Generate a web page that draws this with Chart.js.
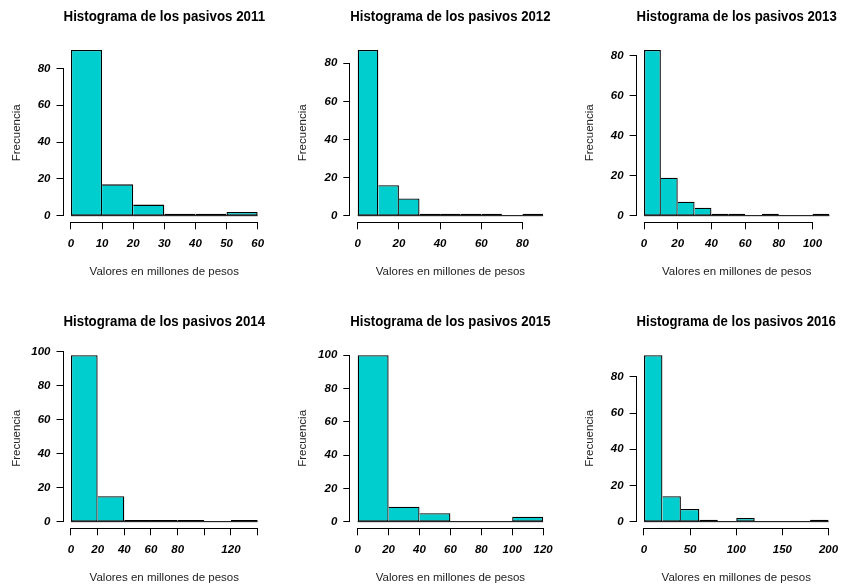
<!DOCTYPE html>
<html>
<head>
<meta charset="utf-8">
<title>Histogramas de los pasivos 2011-2016</title>
<script src="https://cdn.jsdelivr.net/npm/chart.js@4.4.1/dist/chart.umd.min.js"></script>
<style>
  html, body { margin: 0; padding: 0; background: #fff; }
  #wrap { position: relative; width: 846px; height: 586px; overflow: hidden; }
  #wrap canvas { position: absolute; }
</style>
</head>
<body>
<div id="wrap"></div>
<script>
const years = ['2011', '2012', '2013', '2014', '2015', '2016'];

const breaks2011 = [0, 10, 20, 30, 40, 50, 60];
const counts2011 = [90, 17, 6, 1, 1, 2];
const breaks2012 = [0, 10, 20, 30, 40, 50, 60, 70, 80, 90];
const counts2012 = [87, 16, 9, 1, 1, 1, 1, 0, 1];
const breaks2013 = [0, 10, 20, 30, 40, 50, 60, 70, 80, 90, 100, 110];
const counts2013 = [83, 19, 7, 4, 1, 1, 0, 1, 0, 0, 1];
const breaks2014 = [0, 20, 40, 60, 80, 100, 120, 140];
const counts2014 = [98, 15, 1, 1, 1, 0, 1];
const breaks2015 = [0, 20, 40, 60, 80, 100, 120];
const counts2015 = [100, 9, 5, 0, 0, 3];
const breaks2016 = [0, 20, 40, 60, 80, 100, 120, 140, 160, 180, 200];
const counts2016 = [92, 14, 7, 1, 0, 2, 0, 0, 0, 1];

// ejes
const yTicksTop = [0, 20, 40, 60, 80];
const yTicks100 = [0, 20, 40, 60, 80, 100];
const xTicks2011 = [0, 10, 20, 30, 40, 50, 60];
const xLabels2011 = ['0', '10', '20', '30', '40', '50', '60'];
const xTicks2012 = [0, 20, 40, 60, 80];
const xLabels2012 = ['0', '20', '40', '60', '80'];
const xTicks2013 = [0, 20, 40, 60, 80, 100];
const xLabels2013 = ['0', '20', '40', '60', '80', '100'];
const xTicks2014 = [0, 20, 40, 60, 80, 100, 120, 140];
const xLabels2014 = ['0', '20', '40', '60', '80', '', '120', ''];
const xTicks2015 = [0, 20, 40, 60, 80, 100, 120];
const xLabels2015 = ['0', '20', '40', '60', '80', '100', '120'];
const xTicks2016 = [0, 50, 100, 150, 200];
const xLabels2016 = ['0', '50', '100', '150', '200'];

const panels = [
  { breaks: breaks2011, counts: counts2011, yTicks: yTicksTop, xTicks: xTicks2011, xLabels: xLabels2011 },
  { breaks: breaks2012, counts: counts2012, yTicks: yTicksTop, xTicks: xTicks2012, xLabels: xLabels2012 },
  { breaks: breaks2013, counts: counts2013, yTicks: yTicksTop, xTicks: xTicks2013, xLabels: xLabels2013 },
  { breaks: breaks2014, counts: counts2014, yTicks: yTicks100, xTicks: xTicks2014, xLabels: xLabels2014 },
  { breaks: breaks2015, counts: counts2015, yTicks: yTicks100, xTicks: xTicks2015, xLabels: xLabels2015 },
  { breaks: breaks2016, counts: counts2016, yTicks: yTicksTop, xTicks: xTicks2016, xLabels: xLabels2016 }
];

// zona de graficado de cada panel (px de la pagina)
const colLeft = [63.5, 350.3, 636.6];
const colRight = [265.1, 550.5, 836.8];
const rowTop = [43.3, 348.5];
const rowBottom = [222.3, 528.3];
const cellW = 282, cellH = 293;
const yAxisW = 54, xAxisH = 56, titleH = 17.28 + 17.76;

Chart.defaults.font.family = '"Liberation Sans", Arial, sans-serif';
Chart.defaults.color = '#000';

const tickFont = { size: 11.5, style: 'italic', weight: 'bold' };
const labelFont = { size: 11.5 };

// ejes estilo R: la linea solo va del primer al ultimo tick
const rAxes = {
  id: 'rAxes',
  afterDraw(chart) {
    const { ctx, chartArea, scales } = chart;
    const xs = scales.x, ys = scales.y;
    const al = p => Math.round(p - 0.5) + 0.5;
    ctx.save();
    ctx.strokeStyle = '#000';
    ctx.lineWidth = 1;
    ctx.beginPath();
    const ax = Math.round(chartArea.left) - 0.5;
    ctx.moveTo(ax, al(ys.getPixelForValue(ys.ticks[0].value)));
    ctx.lineTo(ax, al(ys.getPixelForValue(ys.ticks[ys.ticks.length - 1].value)));
    const ay = Math.round(chartArea.bottom) + 0.5;
    ctx.moveTo(al(xs.getPixelForValue(xs.ticks[0].value)), ay);
    ctx.lineTo(al(xs.getPixelForValue(xs.ticks[xs.ticks.length - 1].value)), ay);
    ctx.stroke();
    ctx.restore();
  }
};

const wrap = document.getElementById('wrap');

panels.forEach((p, i) => {
  const col = i % 3, row = Math.floor(i / 3);
  const cx = col * cellW, cy = row * cellH;
  const canvas = document.createElement('canvas');
  canvas.width = cellW;
  canvas.height = cellH;
  canvas.style.left = cx + 'px';
  canvas.style.top = cy + 'px';
  wrap.appendChild(canvas);

  const counts = p.counts;
  const lo = p.breaks[0], hi = p.breaks[p.breaks.length - 1];
  const xPad = (hi - lo) * 0.04;
  const yMax = Math.max(...counts);

  new Chart(canvas.getContext('2d'), {
    type: 'bar',
    data: {
      datasets: [
        {
          type: 'bar',
          order: 1,
          data: counts.map((c, k) => ({ x: (p.breaks[k] + p.breaks[k + 1]) / 2, y: c })),
          backgroundColor: '#00CDCD',
          borderColor: '#000',
          borderSkipped: false,
          inflateAmount: 0,
          borderWidth: ctx => {
            const k = ctx.dataIndex;
            return {
              top: 1.3,
              bottom: 1,
              left: (k === 0 || counts[k] > counts[k - 1]) ? 1.3 : 0,
              right: (k === counts.length - 1 || counts[k] >= counts[k + 1]) ? 1.3 : 0
            };
          },
          barPercentage: 1,
          categoryPercentage: 1
        },
        {
          // intervalos vacios: R dibuja el rectangulo de altura 0 como una linea
          type: 'line',
          order: 2,
          data: [{ x: lo, y: 0 }, { x: hi, y: 0 }],
          borderColor: '#000',
          borderWidth: 1,
          pointRadius: 0
        }
      ]
    },
    options: {
      responsive: false,
      animation: false,
      events: [],
      layout: {
        padding: {
          left: colLeft[col] - cx - yAxisW,
          right: cx + cellW - colRight[col],
          top: rowTop[row] - cy - titleH,
          bottom: cy + cellH - rowBottom[row] - xAxisH
        }
      },
      plugins: {
        legend: { display: false },
        tooltip: { enabled: false },
        title: {
          display: true,
          text: 'Histograma de los pasivos ' + years[i],
          fullSize: false,
          color: '#000',
          font: { size: 14.4, weight: 'bold' },
          padding: { top: 0, bottom: 17.76 }
        }
      },
      scales: {
        x: {
          type: 'linear',
          min: lo - xPad,
          max: hi + xPad,
          offset: false,
          afterBuildTicks: s => { s.ticks = p.xTicks.map(v => ({ value: v })); },
          afterFit: s => { s.height = xAxisH; },
          border: { display: false },
          grid: { drawOnChartArea: false, drawTicks: true, tickLength: 7, color: '#000', offset: false },
          ticks: {
            autoSkip: false,
            maxRotation: 0,
            minRotation: 0,
            padding: 7.5,
            color: '#000',
            font: tickFont,
            callback: (v, k) => p.xLabels[k]
          },
          title: {
            display: true,
            text: 'Valores en millones de pesos',
            color: '#222',
            font: labelFont,
            padding: { top: 0, bottom: 0 }
          }
        },
        y: {
          type: 'linear',
          min: -0.04 * yMax,
          max: 1.04 * yMax,
          afterBuildTicks: s => { s.ticks = p.yTicks.map(v => ({ value: v })); },
          afterFit: s => { s.width = yAxisW; },
          border: { display: false },
          grid: { drawOnChartArea: false, drawTicks: true, tickLength: 7, color: '#000' },
          ticks: { padding: 6, color: '#000', font: tickFont },
          title: {
            display: true,
            text: 'Frecuencia',
            color: '#222',
            font: labelFont,
            padding: { top: 0, bottom: 0 }
          }
        }
      }
    },
    plugins: [rAxes]
  });
});
</script>
</body>
</html>
